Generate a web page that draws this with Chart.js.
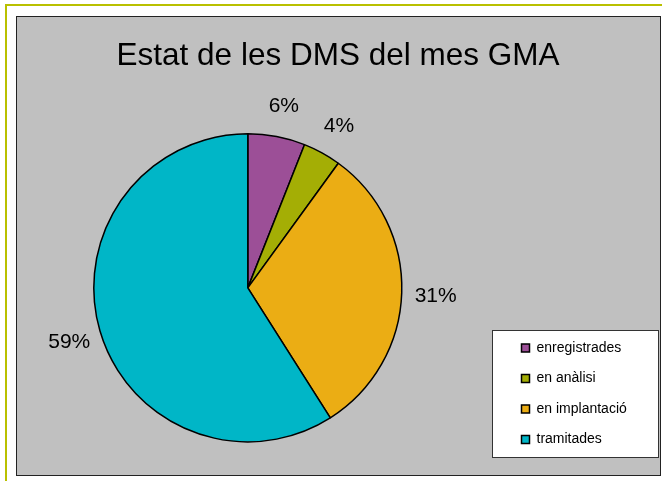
<!DOCTYPE html>
<html>
<head>
<meta charset="utf-8">
<script src="https://cdn.jsdelivr.net/npm/chart.js@4/dist/chart.umd.min.js"></script>
<style>
  html, body { margin: 0; padding: 0; background: #ffffff; width: 662px; height: 481px; overflow: hidden; }
  #outer { position: absolute; left: 5px; top: 4px; width: 720px; height: 540px; border: 2px solid #b9c000; box-sizing: border-box; }
  #panel { position: absolute; left: 16px; top: 16px; width: 645px; height: 460px; background: #c0c0c0; border: 1px solid #222; box-sizing: border-box; }
  #wrap { position: absolute; left: 0; top: 0; width: 662px; height: 481px; }
</style>
</head>
<body>
<div id="outer"></div>
<div id="panel"></div>
<div id="wrap"><canvas id="c" width="662" height="481"></canvas></div>
<script>
const chartTitle = 'Estat de les DMS del mes GMA';
const categories = ['enregistrades', 'en anàlisi', 'en implantació', 'tramitades'];
const values = [6, 4, 31, 59];
const sliceColors = ['#9c4f97', '#a4ae05', '#ebad14', '#00b6c7'];

const FONT = '"Liberation Sans", Arial, sans-serif';

const placeBoxes = {
  id: 'placeBoxes',
  afterLayout(chart) {
    const t = chart.titleBlock;
    if (t) { t.left = 17; t.right = 659; t.width = 642; }
    const lg = chart.legend;
    if (lg) {
      lg.left = 505; lg.top = 324.5; lg.right = 505 + 150; lg.bottom = 324.5 + 140;
      lg.width = 150; lg.height = 140;
    }
  },
  beforeDraw(chart) {
    const ctx = chart.ctx;
    ctx.save();
    ctx.fillStyle = '#ffffff';
    ctx.strokeStyle = '#333333';
    ctx.lineWidth = 1;
    ctx.fillRect(492.5, 330.5, 166, 127);
    ctx.strokeRect(492.5, 330.5, 166, 127);
    ctx.restore();
  }
};

const pctLabels = {
  id: 'pctLabels',
  afterDatasetsDraw(chart) {
    const meta = chart.getDatasetMeta(0);
    const data = chart.data.datasets[0].data;
    const total = data.reduce((a, b) => a + b, 0);
    const ctx = chart.ctx;
    ctx.save();
    ctx.font = '21px ' + FONT;
    ctx.fillStyle = '#000000';
    ctx.textAlign = 'center';
    ctx.textBaseline = 'middle';
    meta.data.forEach((arc, i) => {
      const p = arc.getProps(['x', 'y', 'startAngle', 'endAngle', 'outerRadius'], true);
      const mid = (p.startAngle + p.endAngle) / 2;
      const r = p.outerRadius + 33;
      const txt = Math.round(data[i] / total * 100) + '%';
      ctx.fillText(txt, p.x + Math.cos(mid) * r + 1, p.y + Math.sin(mid) * r + 2);
    });
    ctx.restore();
  }
};

new Chart(document.getElementById('c'), {
  type: 'pie',
  data: {
    labels: categories,
    datasets: [{
      data: values,
      backgroundColor: sliceColors,
      borderColor: '#000000',
      borderWidth: 1.5,
      radius: 154
    }]
  },
  options: {
    responsive: false,
    animation: false,
    devicePixelRatio: 1,
    layout: { padding: { left: 87.8, right: 254.2, top: 0, bottom: 33.6 } },
    plugins: {
      tooltip: { enabled: false },
      title: {
        display: true,
        text: chartTitle,
        color: '#000000',
        font: { family: FONT, size: 31.5, weight: 'normal', lineHeight: 1.2 },
        padding: { top: 37, bottom: 53.5 }
      },
      legend: {
        position: 'chartArea',
        align: 'start',
        labels: {
          color: '#000000',
          font: { family: FONT, size: 14 },
          boxWidth: 8,
          boxHeight: 8,
          padding: 16.5
        }
      }
    }
  },
  plugins: [placeBoxes, pctLabels]
});
</script>
</body>
</html>
